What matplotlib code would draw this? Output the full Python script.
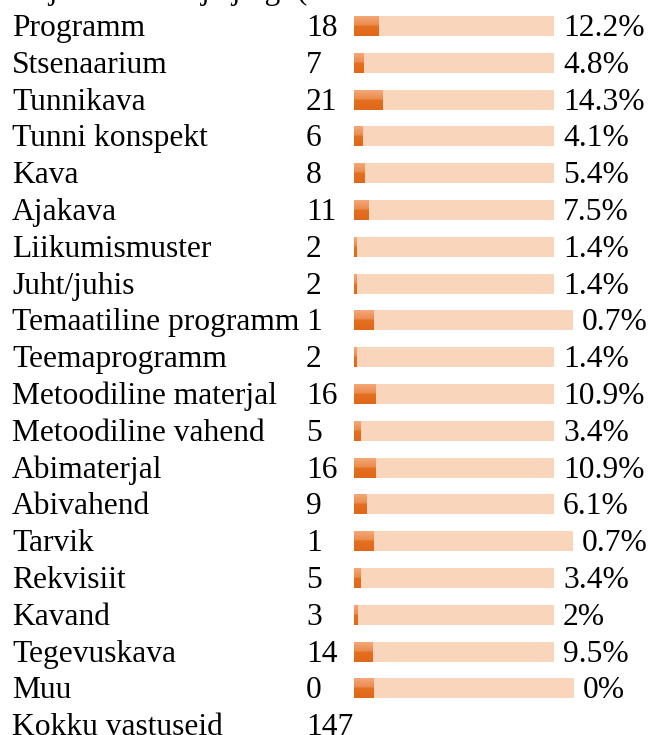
import numpy as np
import matplotlib
matplotlib.use("Agg")
import matplotlib.pyplot as plt
from matplotlib.colors import LinearSegmentedColormap

# Survey results: document type, number of answers, share of answers (%)
categories = [
    "Programm", "Stsenaarium", "Tunnikava", "Tunni konspekt", "Kava",
    "Ajakava", "Liikumismuster", "Juht/juhis", "Temaatiline programm",
    "Teemaprogramm", "Metoodiline materjal", "Metoodiline vahend",
    "Abimaterjal", "Abivahend", "Tarvik", "Rekvisiit", "Kavand",
    "Tegevuskava", "Muu",
]
counts = [18, 7, 21, 6, 8, 11, 2, 2, 1, 2, 16, 5, 16, 9, 1, 5, 3, 14, 0]
percents = [12.2, 4.8, 14.3, 4.1, 5.4, 7.5, 1.4, 1.4, 0.7, 1.4,
            10.9, 3.4, 10.9, 6.1, 0.7, 3.4, 2, 9.5, 0]
total_label = "Kokku vastuseid"
total = 147
header_tail = "Kaja nimetuse ja järgi ("

W, H, DPI = 648, 735, 100
fig = plt.figure(figsize=(W / DPI, H / DPI), dpi=DPI)
ax = fig.add_axes([0, 0, 1, 1])
ax.set_xlim(0, W)
ax.set_ylim(H, 0)
ax.axis("off")

FONT = "Liberation Serif"
FS = 31.5 * 72 / DPI          # ~31.5 px text
ROW0 = 26.0                   # centre of the first row (px)
STEP = 36.8                   # row pitch (px)
BASE = 10.0                   # baseline offset below row centre
LABEL_X = 12
COUNT_X = 306
BAR_X = 354
BAR_H = 20
UNIT = 2.0                    # px per percent on the bar track
NATURAL = 10.0                # dark cap shown at natural size when width rounds to 0
TRACK = "#F9D5BB"

cap_cmap = LinearSegmentedColormap.from_list(
    "cap", [(0.0, "#F3A877"), (0.45, "#EC8B4F"), (0.5, "#E3701F"), (1.0, "#E0671B")]
)
grad = np.linspace(0, 1, 64).reshape(-1, 1)

def text(x, y, s, **kw):
    ax.text(x, y, s, fontsize=FS, family=FONT, color="black",
            va="baseline", ha="left", **kw)

# partially visible question line above the table
text(LABEL_X, ROW0 - STEP + BASE, header_tail)

for i, (cat, n, p) in enumerate(zip(categories, counts, percents)):
    yc = ROW0 + i * STEP
    text(LABEL_X, yc + BASE, cat)
    text(COUNT_X, yc + BASE, str(n))

    dark = p if int(p) > 0 else NATURAL
    x0 = BAR_X
    x1 = x0 + dark * UNIT
    x2 = x1 + (100 - p) * UNIT
    top, bot = yc - BAR_H / 2, yc + BAR_H / 2
    ax.add_patch(plt.Rectangle((x1, top), x2 - x1, BAR_H, color=TRACK, lw=0))
    ax.imshow(grad, cmap=cap_cmap, aspect="auto", interpolation="bilinear",
              extent=(x0, x1, bot, top), zorder=3)
    text(x2 + 9, yc + BASE, f"{p:g}%")

yc = ROW0 + len(categories) * STEP
text(LABEL_X, yc + BASE, total_label)
text(COUNT_X, yc + BASE, str(total))

ax.set_xlim(0, W)
ax.set_ylim(H, 0)
fig.savefig("out.png", dpi=DPI)
